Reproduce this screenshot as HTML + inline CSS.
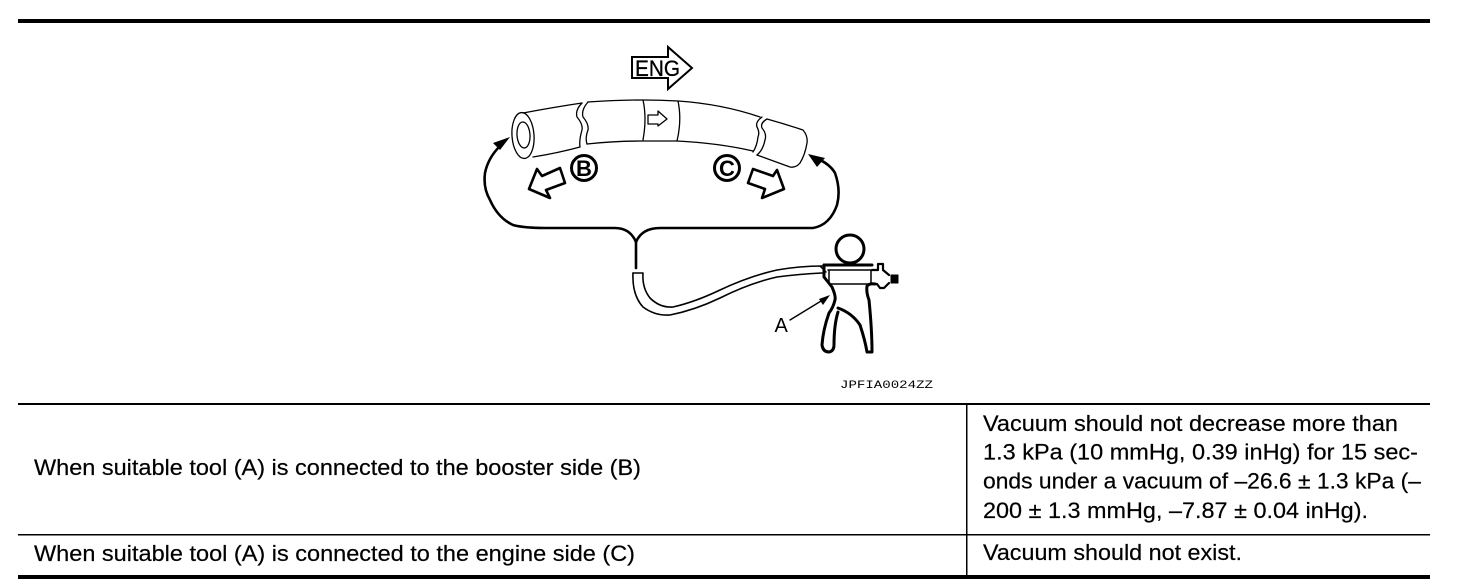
<!DOCTYPE html>
<html><head><meta charset="utf-8"><style>
html,body{margin:0;padding:0;background:#fff}
svg{display:block}
text{font-family:"Liberation Sans",sans-serif;fill:#000}
</style></head><body>
<svg width="1472" height="588" viewBox="0 0 1472 588" xmlns="http://www.w3.org/2000/svg">
<rect width="1472" height="588" fill="#fff"/>
<!-- table rules -->
<rect x="18" y="19" width="1412" height="4" fill="#000"/>
<rect x="18" y="403" width="1412" height="2" fill="#000"/>
<rect x="18" y="534" width="1412" height="1.5" fill="#000"/>
<rect x="18" y="575" width="1412" height="4" fill="#000"/>
<rect x="966" y="404" width="1.5" height="172" fill="#000"/>
<!-- ENG -->
<path d="M632 57H668V47L692 68L668 89V78H632Z" fill="#fff" stroke="#000" stroke-width="2"/>
<text x="635" y="76" font-size="22" stroke="#000" stroke-width=".3" textLength="45" lengthAdjust="spacingAndGlyphs">ENG</text>
<g fill="none" stroke="#000" stroke-linecap="round" stroke-linejoin="round">
<!-- tube -->
<g stroke-width="1.3">
<ellipse cx="523" cy="135.5" rx="11" ry="23" transform="rotate(-4 523 135.5)"/>
<ellipse cx="523.5" cy="135" rx="6.5" ry="13" transform="rotate(-4 523 135)"/>
<path d="M523 113Q555 107 582 103"/>
<path d="M533 157Q558 153 580 147"/>
<path d="M582 103Q575 110 577 117Q583 124 582 130Q579 140 580 147"/>
<path d="M588 102Q581 110 583 117Q589 124 588 130Q585 138 587 144"/>
<path d="M588 102Q615 100 643 100Q660 100 678 101Q722 104 760 117"/>
<path d="M587 144Q615 141 643 141H677Q718 143 753 151"/>
<path d="M643 100Q647 118 643 140"/>
<path d="M678 101Q682 120 677 141"/>
<path d="M762 117Q755 122 757 127Q760 132 758 137Q757 146 753 152"/>
<path d="M767 119Q760 123 762 128Q767 134 765 140Q763 150 757 155"/>
<path d="M767 119Q785 124 803 130Q808 136 807 143Q805 155 800 163Q796 168 790 167L757 155"/>
<path d="M648 115H658V111L667 119L658 126V124H648Z"/>
</g>
<!-- big arrows -->
<g stroke-width="2.6">
<path d="M529 189L537 169L542 176L560 168L565 183L546 190L550 198Z"/>
<path d="M753 169L748 183L765 189L762 198L784 189L777 170L773 176Z"/>
</g>
<circle cx="584" cy="168" r="12.5" stroke-width="3"/>
<circle cx="727" cy="168" r="12.5" stroke-width="3"/>
<!-- brace -->
<g stroke-width="2.6">
<path d="M500 146Q488 158 485 173Q483 188 490 200Q498 218 513 225Q524 228 545 228H615Q630 228 636 242Q642 228 660 228H813Q830 225 837 205Q841 190 835 173Q830 164 816 158"/>
<path d="M636 240V268"/>
</g>
<!-- hose -->
<g stroke-width="1.6">
<path d="M633 273H643Q642 288 650 298Q660 308 673 307Q695 302 720 290Q750 276 777 270Q800 266 822 266"/>
<path d="M633 273Q632 295 643 307Q655 316 670 315Q695 310 720 298Q750 283 777 277Q800 274 822 273"/>
</g>
<!-- gauge -->
<circle cx="850" cy="249" r="14" stroke-width="3"/>
<g stroke-width="3">
<path d="M824 265H872"/>
<path d="M824 265V277L832 287Q836 296 835 300Q833 308 829 313Q823 330 822 345Q823 352 829 352Q834 351 834 345Q834 325 838 312"/>
<path d="M838 308Q852 313 860 325Q865 340 867 352H872Q872 330 869 300Q866 292 867 286Q870 283 875 284"/>
</g>
<g stroke-width="1.5">
<path d="M828 270H871V284H829V270"/>
<path d="M820 266L826 272"/>
</g>
<g stroke-width="2.2">
<path d="M872 270H878V264H883V270L889 275M889 283L884 288H880L877 284H872"/>
</g>
<path d="M891 275H898V283H891Z" fill="#000" stroke-width="1"/>
<path d="M790 320L826 298" stroke-width="1.4"/>
</g>
<!-- solid arrowheads -->
<path d="M510 137L493 143L500 150Z" fill="#000"/>
<path d="M808 154L825 158L817 167Z" fill="#000"/>
<path d="M830 295L819 299L823 305Z" fill="#000"/>
<!-- callouts -->
<text x="584" y="176" font-size="22" font-weight="bold" text-anchor="middle">B</text>
<text x="727" y="176" font-size="22" font-weight="bold" text-anchor="middle">C</text>
<text x="774.5" y="332" font-size="20">A</text>
<text x="840" y="388" font-size="11" style='font-family:"Liberation Mono",monospace' textLength="93" lengthAdjust="spacingAndGlyphs">JPFIA0024ZZ</text>
<!-- table text -->
<g font-size="22" stroke="#000" stroke-width=".2">
<text x="34" y="475" textLength="607" lengthAdjust="spacingAndGlyphs">When suitable tool (A) is connected to the booster side (B)</text>
<text x="34" y="561" textLength="601" lengthAdjust="spacingAndGlyphs">When suitable tool (A) is connected to the engine side (C)</text>
<text x="983" y="431" textLength="415" lengthAdjust="spacingAndGlyphs">Vacuum should not decrease more than</text>
<text x="983" y="459.5" textLength="435" lengthAdjust="spacingAndGlyphs">1.3 kPa (10 mmHg, 0.39 inHg) for 15 sec-</text>
<text x="983" y="488.5" textLength="438" lengthAdjust="spacingAndGlyphs">onds under a vacuum of –26.6 ± 1.3 kPa (–</text>
<text x="983" y="518" textLength="385" lengthAdjust="spacingAndGlyphs">200 ± 1.3 mmHg, –7.87 ± 0.04 inHg).</text>
<text x="983" y="560" textLength="259" lengthAdjust="spacingAndGlyphs">Vacuum should not exist.</text>
</g>
</svg>
</body></html>
